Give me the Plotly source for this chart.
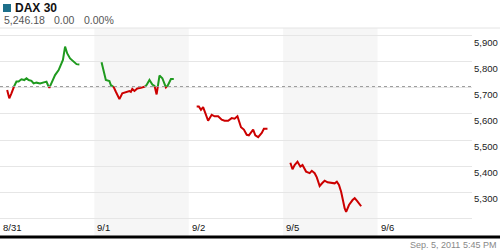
import plotly.graph_objects as go

# ---------------- data ----------------
day_labels = ["8/31", "9/1", "9/2", "9/5", "9/6"]
prev_close = 5705

times_0831 = ["8:50", "9:05", "9:20", "9:40", "9:55", "10:10", "10:20", "10:30", "10:50", "11:05",
              "11:20", "11:40", "11:55", "12:15", "12:40", "13:05", "13:25", "13:35", "13:45", "14:00",
              "14:25", "14:50", "15:10", "15:20", "15:35", "15:50", "16:10", "16:35", "16:55", "17:15"]
values_0831 = [5692, 5660, 5679, 5708, 5724, 5724, 5727, 5733, 5730, 5737,
               5730, 5727, 5717, 5720, 5717, 5720, 5724, 5711, 5700, 5720,
               5749, 5768, 5794, 5807, 5858, 5832, 5813, 5800, 5791, 5790]

times_0901 = ["8:50", "9:10", "9:20", "9:45", "9:55", "10:15", "10:30", "10:55", "11:15", "11:40",
              "12:05", "12:15", "12:25", "12:40", "13:00", "13:25", "13:50", "14:05", "14:25", "14:45",
              "15:00", "15:15", "15:35", "15:55", "16:20", "16:35", "16:55", "17:15"]
values_0901 = [5798, 5756, 5730, 5726, 5711, 5703, 5685, 5657, 5679, 5685,
               5688, 5685, 5696, 5688, 5698, 5700, 5702, 5711, 5730, 5713,
               5708, 5675, 5747, 5737, 5702, 5711, 5734, 5734]

times_0902 = ["8:55", "9:10", "9:25", "9:40", "9:55", "10:15", "10:40", "11:00", "11:25", "11:50",
              "12:10", "12:35", "13:00", "13:20", "13:40", "13:50", "14:05", "14:25", "14:45", "15:00",
              "15:15", "15:30", "15:45", "16:05", "16:30", "16:45", "17:10"]
values_0902 = [5629, 5629, 5616, 5626, 5604, 5574, 5597, 5591, 5591, 5578,
               5574, 5574, 5584, 5582, 5591, 5572, 5549, 5540, 5520, 5518,
               5527, 5540, 5518, 5511, 5527, 5543, 5543]

times_0905 = ["8:50", "9:05", "9:20", "9:40", "10:00", "10:15", "10:40", "11:05", "11:20", "11:40",
              "11:55", "12:15", "12:35", "12:50", "13:10", "13:35", "14:00", "14:15", "14:30", "14:45",
              "14:55", "15:10", "15:20", "15:40", "16:05", "16:20", "16:35", "16:50", "17:05"]
values_0905 = [5413, 5388, 5404, 5417, 5398, 5404, 5379, 5373, 5382, 5373,
               5357, 5324, 5336, 5344, 5338, 5336, 5334, 5340, 5328, 5302,
               5270, 5238, 5225, 5251, 5270, 5277, 5268, 5255, 5246.18]

sessions = [(0, times_0831, values_0831), (1, times_0901, values_0901),
            (2, times_0902, values_0902), (3, times_0905, values_0905)]
shaded_days = [1, 3]
y_ticks = [5200, 5300, 5400, 5500, 5600, 5700, 5800, 5900]
y_ticktext = ["", "5,300", "5,400", "5,500", "5,600", "5,700", "5,800", "5,900"]

title_text = "DAX 30"
quote_last, quote_chg, quote_pct = "5,246.18", "0.00", "0.00%"
stamp_text = "Sep. 5, 2011 5:45 PM"

GREEN = "#1f9a1f"
RED = "#cc0000"

# each day slot covers 8:00 - 19:00
def to_x(day, t):
    h, m = map(int, t.split(":"))
    return day + (h * 60 + m - 480) / 660.0

green_x, green_y, red_x, red_y = [], [], [], []
for day, times, vals in sessions:
    xs = [to_x(day, t) for t in times]
    pts = [(xs[0], vals[0])]
    for i in range(1, len(xs)):
        x0, v0, x1, v1 = xs[i - 1], vals[i - 1], xs[i], vals[i]
        if (v0 - prev_close) * (v1 - prev_close) < 0:
            f = (prev_close - v0) / (v1 - v0)
            pts.append((x0 + f * (x1 - x0), prev_close))
        pts.append((x1, v1))
    runs = []
    for i in range(1, len(pts)):
        (a, va), (b, vb) = pts[i - 1], pts[i]
        col = "g" if (va + vb) / 2 >= prev_close else "r"
        if runs and runs[-1][0] == col:
            runs[-1][1].append((b, vb))
        else:
            runs.append([col, [(a, va), (b, vb)]])
    for col, seg in runs:
        tx, ty = (green_x, green_y) if col == "g" else (red_x, red_y)
        tx.extend([p[0] for p in seg] + [None])
        ty.extend([p[1] for p in seg] + [None])

fig = go.Figure()
fig.add_trace(go.Scatter(x=red_x, y=red_y, mode="lines", line=dict(color=RED, width=2),
                         connectgaps=False, hoverinfo="skip", showlegend=False))
fig.add_trace(go.Scatter(x=green_x, y=green_y, mode="lines", line=dict(color=GREEN, width=2),
                         connectgaps=False, hoverinfo="skip", showlegend=False))

# layout geometry (pixels)
W, H = 500, 250
L, R, T, B = 0, 28, 28, 13
PW, PH = W - L - R, H - T - B

def px(x):
    return (x - L) / PW

def py(y):
    return (H - B - y) / PH

shapes = []
for d in shaded_days:
    shapes.append(dict(type="rect", xref="x", yref="paper", x0=d, x1=d + 1, y0=0, y1=1,
                       fillcolor="#f6f6f6", line=dict(width=0), layer="below"))
shapes.append(dict(type="line", xref="paper", yref="y", x0=0, x1=1, y0=prev_close, y1=prev_close,
                   line=dict(color="#9a9a9a", width=1, dash="dot")))
shapes.append(dict(type="line", xref="paper", yref="paper", x0=0, x1=px(W), y0=1, y1=1,
                   line=dict(color="#e4e4e4", width=1)))
shapes.append(dict(type="line", xref="paper", yref="paper", x0=0, x1=px(W), y0=0, y1=0,
                   line=dict(color="#000000", width=3)))
shapes.append(dict(type="rect", xref="paper", yref="paper", x0=px(3), x1=px(11), y0=py(12), y1=py(4),
                   fillcolor="#1d6f8a", line=dict(width=0)))

annotations = []
for i, lab in enumerate(day_labels):
    annotations.append(dict(x=i, y=py(227), xref="x", yref="paper", text=lab, showarrow=False,
                            xanchor="left", yanchor="middle", xshift=1,
                            font=dict(family="Liberation Sans, Arial", size=9.5, color="#111")))
annotations.append(dict(x=px(13), y=py(8), xref="paper", yref="paper", text="<b>" + title_text + "</b>",
                        showarrow=False, xanchor="left", yanchor="middle",
                        font=dict(family="Liberation Sans, Arial", size=12, color="#111")))
for xx, txt in [(2, quote_last), (52, quote_chg), (82, quote_pct)]:
    annotations.append(dict(x=px(xx), y=py(20), xref="paper", yref="paper", text=txt,
                            showarrow=False, xanchor="left", yanchor="middle",
                            font=dict(family="Liberation Sans, Arial", size=10.5, color="#555")))
annotations.append(dict(x=px(498), y=py(245), xref="paper", yref="paper", text=stamp_text,
                        showarrow=False, xanchor="right", yanchor="middle",
                        font=dict(family="Liberation Sans, Arial", size=9, color="#888")))

fig.update_layout(
    width=W, height=H, margin=dict(l=L, r=R, t=T, b=B, pad=0),
    paper_bgcolor="white", plot_bgcolor="white",
    shapes=shapes, annotations=annotations,
    xaxis=dict(range=[0, 5], showgrid=False, zeroline=False, showticklabels=False,
               showline=False, ticks="", fixedrange=True),
    yaxis=dict(range=[5128.3, 5929.5], side="right", tickvals=y_ticks, ticktext=y_ticktext,
               showgrid=True, gridcolor="#e6e6e6", gridwidth=1, zeroline=False, showline=False,
               ticks="", ticklabelposition="outside bottom", ticklabelstandoff=1,
               tickfont=dict(family="Liberation Sans, Arial", size=9.5, color="#222"), fixedrange=True),
    showlegend=False,
)

fig.write_html("out.html", config={"displayModeBar": False})
